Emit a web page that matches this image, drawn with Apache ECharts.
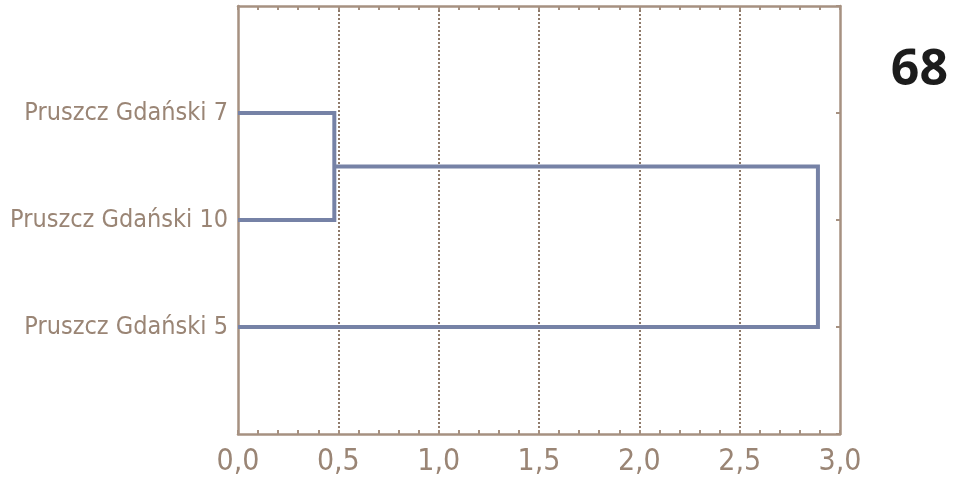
<!DOCTYPE html>
<html><head><meta charset="utf-8">
<script src="https://cdn.jsdelivr.net/npm/echarts@6/dist/echarts.min.js"></script>
<style>html,body{margin:0;padding:0;background:#fff}#c{width:953px;height:495px}</style>
</head><body><div id="c"></div>
<script>
// leaves from bottom to top
const leaves = ['Pruszcz Gdański 5', 'Pruszcz Gdański 10', 'Pruszcz Gdański 7'];
const leafPos = [1, 2, 3];
// linkage distances: first merge (10 with 7), then with 5
const mergeHeights = [0.48, 2.89];
const xTicks = ['0,0', '0,5', '1,0', '1,5', '2,0', '2,5', '3,0'];
const pageNumber = '68';

const axisColor = '#a69181';
const textColor = '#9a8575';
const linkColor = '#7682a6';
const FONT = "'Liberation Sans Narrow', 'DejaVu Sans Condensed', sans-serif";

// cluster 1: leaf 10 (pos 2) & leaf 7 (pos 3)
const c1 = [[0, leafPos[2]], [mergeHeights[0], leafPos[2]], [mergeHeights[0], leafPos[1]], [0, leafPos[1]]];
const c1mid = (leafPos[1] + leafPos[2]) / 2;
// cluster 2: cluster1 & leaf 5 (pos 1)
const c2 = [[mergeHeights[0], c1mid], [mergeHeights[1], c1mid], [mergeHeights[1], leafPos[0]], [0, leafPos[0]]];

const labelMap = {};
leaves.forEach((n, i) => labelMap[leafPos[i]] = n);

const chart = echarts.init(document.getElementById('c'));
chart.setOption({
  animation: false,
  grid: { left: 238, right: 113, top: 6, bottom: 61, containLabel: false, outerBoundsMode: 'none' },
  graphic: [{ type: 'text', right: 5, top: 46, style: { text: pageNumber, font: "bold 50px 'Open Sans', sans-serif", fill: '#1c1c1c' } }],
  xAxis: [{
    type: 'value', min: 0, max: 3, interval: 0.5, position: 'bottom',
    axisLine: { show: true, onZero: false, lineStyle: { color: axisColor, width: 2.5 } },
    axisTick: { show: true, inside: true, length: 4, lineStyle: { color: axisColor, width: 2 } },
    minorTick: { show: true, splitNumber: 5, length: 4, lineStyle: { color: axisColor, width: 2 } },
    axisLabel: { color: textColor, fontFamily: FONT, fontSize: 30, margin: 13,
      formatter: v => xTicks[Math.round(v / 0.5)] },
    splitLine: { show: true, showMinLine: false, showMaxLine: false,
      lineStyle: { color: '#8f7a6a', type: [2, 2], width: 2 } }
  }, {
    type: 'value', min: 0, max: 3, interval: 0.5, position: 'top',
    axisLine: { show: true, onZero: false, lineStyle: { color: axisColor, width: 2.5 } },
    axisTick: { show: true, inside: true, length: 4, lineStyle: { color: axisColor, width: 2 } },
    minorTick: { show: true, splitNumber: 5, length: 4, lineStyle: { color: axisColor, width: 2 } },
    axisLabel: { show: false }, splitLine: { show: false }
  }],
  yAxis: [{
    type: 'value', min: 0, max: 4, interval: 1, position: 'left',
    axisLine: { show: true, onZero: false, lineStyle: { color: axisColor, width: 2.5 } },
    axisTick: { show: false },
    axisLabel: { color: textColor, fontFamily: FONT, fontSize: 25, margin: 10,
      formatter: v => labelMap[v] || '' },
    splitLine: { show: false }
  }, {
    type: 'value', min: 0, max: 4, interval: 1, position: 'right',
    axisLine: { show: true, onZero: false, lineStyle: { color: axisColor, width: 2.5 } },
    axisTick: { show: true, inside: true, length: 4, lineStyle: { color: axisColor, width: 2 } },
    axisLabel: { show: false }, splitLine: { show: false }
  }],
  series: [c1, c2].map(d => ({
    type: 'line', data: d, xAxisIndex: 0, yAxisIndex: 0, symbol: 'none',
    lineStyle: { color: linkColor, width: 4, join: 'miter', cap: 'butt' }, z: 3
  }))
});
</script></body></html>
